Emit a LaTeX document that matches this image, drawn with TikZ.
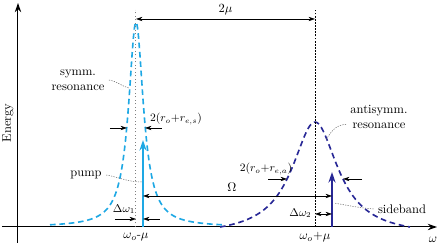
\documentclass[tikz,border=0pt]{standalone}
\usetikzlibrary{arrows.meta}
\usepackage{amsmath}
\definecolor{symmblue}{RGB}{30,168,228}
\definecolor{antiblue}{RGB}{40,40,150}

\begin{document}
\begin{tikzpicture}[x=0.8pt,y=0.8pt,line width=0.5pt,>=Stealth,
  axis/.style={line width=0.8pt,-{Stealth[length=2.6mm,width=1.8mm]}},
  guide/.style={-{Stealth[length=1.8mm,width=1.2mm]}},
  twoway/.style={{Stealth[length=1.8mm,width=1.2mm]}-{Stealth[length=1.8mm,width=1.2mm]}},
  leader/.style={gray!80!black,line width=0.4pt,dash pattern=on 1pt off 1pt},
  reson/.style={line width=1.3pt,dash pattern=on 4.5pt off 3pt}]
\def\cs{118}   % symm. centre
\def\ca{297}   % antisymm. centre
\def\wp{125}   % pump
\def\ws{314}   % sideband
\useasboundingbox (-18,-17) rectangle (422,227);
% axes
\coordinate (ybot) at (0,-16);
\coordinate (ytop) at (0,224);
\coordinate (xleft) at (-16,0);
\coordinate (xright) at (419,0);
\draw[axis] (ybot) -- (ytop);
\draw[axis] (xleft) -- (xright);
\node[rotate=90] (elbl) at (-10,104) {Energy};
\node (wlbl) at (415,-13) {$\omega$};
% resonances
\draw[symmblue,reson] plot[domain=32:204,samples=160,smooth]
  (\x,{205/(1+((\x-\cs)/9)^2)});
\draw[antiblue,reson] plot[domain=202:392,samples=140,smooth]
  (\x,{max(0,105*(1/(1+((\x-\ca)/28)^2)-0.08)/0.92)});
% centre lines
\coordinate (sbot) at (\cs,0);
\coordinate (stop) at (\cs,217);
\coordinate (abot) at (\ca,0);
\coordinate (atop) at (\ca,217);
\draw[gray,line width=0.8pt,dotted] (sbot) -- (stop);
\draw[black,dash pattern=on 1.5pt off 1pt] (abot) -- (atop);
\node (smu) at (\cs,-10) {$\omega_o\text{-}\mu$};
\node (amu) at (\ca,-10) {$\omega_o{+}\mu$};
% pump and sideband
\coordinate (pbot) at (\wp,0);
\coordinate (ptip) at (\wp,87);
\coordinate (sdbot) at (\ws,0);
\coordinate (sdtip) at (\ws,55);
\draw[symmblue,line width=1.8pt,-{Stealth[length=3mm,width=2mm]}] (pbot) -- (ptip);
\draw[antiblue,line width=1.6pt,-{Stealth[length=3mm,width=2mm]}] (sdbot) -- (sdtip);
% spacings
\coordinate (mul) at (\cs,208);
\coordinate (mur) at (\ca,208);
\draw[twoway] (mul) -- (mur) node[midway,above] (mulbl) {$2\mu$};
\coordinate (oml) at (\wp,31);
\coordinate (omr) at (\ws,31);
\draw[twoway] (oml) -- (omr) node[pos=0.47,above] (omlbl) {$\Omega$};
\coordinate (d1a) at (97,8);
\coordinate (d1b) at (\cs,8);
\coordinate (d1c) at (142,8);
\coordinate (d1d) at (\wp,8);
\draw[guide] (d1a) -- (d1b);
\draw[guide] (d1c) -- (d1d);
\node (d1lbl) at (106,18) {\small$\Delta\omega_1$};
\coordinate (d2a) at (\ca,13);
\coordinate (d2b) at (\ws,13);
\draw[twoway] (d2a) -- (d2b);
\node[anchor=east,inner sep=1pt] (d2lbl) at (295,14) {\small$\Delta\omega_2$};
% linewidths
\coordinate (wsa) at (92,99);
\coordinate (wsb) at (109,99);
\coordinate (wsc) at (144,99);
\coordinate (wsd) at (127,99);
\draw[guide] (wsa) -- (wsb);
\draw[guide] (wsc) -- (wsd);
\node (wslbl) at (158,108) {\small$2(r_o{+}r_{e,s})$};
\coordinate (waa) at (250,48);
\coordinate (wab) at (269,48);
\coordinate (wac) at (344,48);
\coordinate (wad) at (325,48);
\draw[guide] (waa) -- (wab);
\draw[guide] (wac) -- (wad);
\node (walbl) at (248,58) {\small$2(r_o{+}r_{e,a})$};
% labels with leaders
\node[align=center] (symmlbl) at (60,147) {symm.\\resonance};
\coordinate (symmpt) at (111,139);
\draw[leader] (symmlbl.east) to[out=-10,in=165] (symmpt);
\node (pumplbl) at (68,52) {pump};
\coordinate (pumppt) at (124,45);
\draw[leader] (pumplbl.east) to[out=-10,in=180] (pumppt);
\node[align=center] (antilbl) at (361,110) {antisymm.\\resonance};
\coordinate (antipt) at (308,87);
\draw[leader] ([yshift=-6pt]antilbl.west) to[out=180,in=60] (antipt);
\node (sidelbl) at (384,18) {sideband};
\coordinate (sidept) at (316,24);
\draw[leader] (sidelbl.west) to[out=175,in=-10] (sidept);
\end{tikzpicture}
\end{document}
